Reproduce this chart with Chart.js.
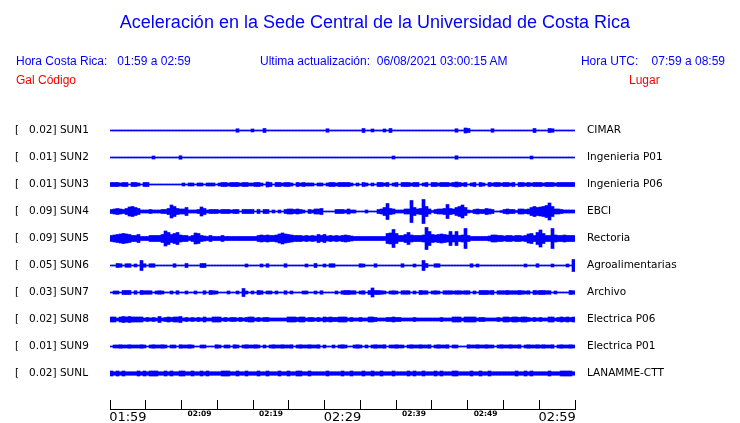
<!DOCTYPE html>
<html><head><meta charset="utf-8">
<script src="https://cdn.jsdelivr.net/npm/chart.js@4"></script>
<style>
html,body{margin:0;padding:0;background:#fff}
body{width:740px;height:423px;overflow:hidden;position:relative;font-family:"Liberation Sans",Arial,sans-serif}
#c{position:absolute;left:0;top:0}
.t{position:absolute;white-space:pre;line-height:1;font-size:12px}
.b{color:#0000ff}
.r{color:#ff0000}
</style></head><body>
<canvas id="c" width="740" height="423"></canvas>
<div class="t b" style="left:5px;top:13px;width:740px;text-align:center;font-size:18px">Aceleración en la Sede Central de la Universidad de Costa Rica</div>
<div class="t b" style="left:16px;top:55px">Hora Costa Rica:   01:59 a 02:59</div>
<div class="t b" style="left:260px;top:55px">Ultima actualización:  06/08/2021 03:00:15 AM</div>
<div class="t b" style="right:15px;top:55px">Hora UTC:    07:59 a 08:59</div>
<div class="t r" style="left:16px;top:74px">Gal</div>
<div class="t r" style="left:38px;top:74px">Código</div>
<div class="t r" style="left:629px;top:74px">Lugar</div>
<script>
// ---- labels ----
const gal = ['0.02','0.01','0.01','0.09','0.09','0.05','0.03','0.02','0.01','0.02'];
const codes = ['SUN1','SUN2','SUN3','SUN4','SUN5','SUN6','SUN7','SUN8','SUN9','SUNL'];
const places = ['CIMAR','Ingenieria P01','Ingenieria P06','EBCI','Rectoria','Agroalimentarias','Archivo','Electrica P06','Electrica P01','LANAMME-CTT'];
const timeLabels = ['01:59','','02:09','','02:19','','02:29','','02:39','','02:49','','02:59'];
const majorLabels = ['01:59','02:29','02:59'];

// ---- trace envelopes (half-amplitude, 155 samples across the hour) ----
const sun1 = [0.5,0.5,0.5,0.5,0.5,0.5,0.5,0.5,0.5,0.5, 0.5,0.5,0.5,0.5,0.5,0.5,0.5,0.5,0.5,0.5, 0.5,0.5,0.5,0.5,0.5,0.5,0.5,0.5,0.5,0.5, 0.5,0.5,0.5,0.5,0.5,0.5,0.5,0.5,0.5,0.5,
  0.5,0.5,1.75,0.5,0.5,0.5,0.5,1.5,0.5,0.5, 0.5,2,0.5,0.5,0.5,0.5,0.5,0.5,0.5,0.5, 0.5,0.5,0.5,0.5,0.5,0.5,0.5,0.5,0.5,0.5, 0.5,0.5,1.75,0.5,0.5,0.5,0.5,0.5,0.5,0.5,
  0.5,0.5,0.5,0.5,2,0.5,0.5,1.5,0.5,0.5, 0.5,1.5,0.5,2,0.5,0.5,0.5,0.5,0.5,0.5, 0.5,0.5,0.5,0.5,0.5,0.5,0.5,0.5,0.5,0.5, 0.5,0.5,0.5,0.5,0.5,1.75,0.5,0.5,2.5,2,
  0.5,0.5,0.5,0.5,0.5,0.5,0.5,1.75,0.5,0.5, 0.5,0.5,0.5,0.5,0.5,0.5,0.5,0.5,0.5,0.5, 0.5,2,0.5,0.5,0.5,0.5,2,1.75,0.5,0.5, 0.5,0.5,0.5,0.5,0.5];
const sun2 = [0.5,0.5,0.5,0.5,0.5,0.5,0.5,0.5,0.5,0.5, 0.5,0.5,0.5,0.5,1.5,0.5,0.5,0.5,0.5,0.5, 0.5,0.5,0.5,1.75,0.5,0.5,0.5,0.5,0.5,0.5, 0.5,0.5,0.5,0.5,0.5,0.5,0.5,0.5,0.5,0.5,
  0.5,0.5,0.5,0.5,0.5,0.5,0.5,0.5,0.5,0.5, 0.5,0.5,0.5,0.5,0.5,0.5,0.5,0.5,0.5,0.5, 0.5,0.5,0.5,0.5,0.5,0.5,0.5,0.5,0.5,0.5, 0.5,0.5,0.5,0.5,0.5,0.5,0.5,0.5,0.5,0.5,
  0.5,0.5,0.5,0.5,0.5,0.5,0.5,0.5,0.5,0.5, 0.5,0.5,0.5,0.5,1.5,0.5,0.5,0.5,0.5,0.5, 0.5,0.5,0.5,0.5,0.5,0.5,0.5,0.5,0.5,0.5, 0.5,0.5,0.5,0.5,0.5,1.75,0.5,0.5,0.5,0.5,
  0.5,0.5,0.5,0.5,0.5,0.5,0.5,0.5,0.5,0.5, 0.5,0.5,0.5,0.5,0.5,0.5,0.5,0.5,0.5,0.5, 1.5,0.5,0.5,0.5,0.5,0.5,0.5,0.5,0.5,0.5, 0.5,0.5,0.5,0.5,0.5];
const sun3 = [2,2,2,1.5,2,2,0.5,2,2,1.5, 0.5,2,2,0.5,0.5,0.5,0.5,0.5,0.5,0.5, 0.5,0.5,0.5,0.5,1.5,0.5,1.5,1.5,0.5,1.5, 1.5,0.5,1.5,1.5,1.5,0.5,1.5,2,2,1.5,
  2,2,2,1.5,2,2,1.5,1.5,2,2, 1.5,0.5,2.5,2,0.5,2,2,1.5,2,2, 1.5,0.5,2,1.5,2,1.5,1.5,1.5,0.5,1.5, 1.5,0.5,1.5,2,2,1.5,2,2,2,2,
  1.5,0.5,1.5,0.5,2,1.5,0.5,1.5,0.5,2, 2,1.5,2,0.5,1.5,2,0.5,2,2,2, 1.5,2,2,0.5,1.5,2,0.5,2,2,1.5, 2,2,2,1.5,2,2.5,2,1.5,2,0.5,
  1.5,2,0.5,2,1.5,0.5,2,1.5,2,2, 1.5,2,2,1.5,2,0.5,2,2,1.5,2, 1.5,2,2,2,1.5,2,2,2,1.5,2, 2,2,2,2,2];
const sun4 = [2,2.5,3,2.5,2,3,4.5,5,4,3, 1.5,1.5,1.5,2,1.5,1.5,1.5,2,2,3, 6.5,5,3,2.5,2.5,4,1.5,1.5,1.5,2, 4.5,3,1.5,2,2,2,1.5,2,2,2,
  1.5,2,2,0.5,2,2,2,2,0.5,2, 0.5,2,2,0.5,1.5,0.5,1.5,0.5,2,2.5, 2.5,2,2.5,2,1.5,0.5,2,1.5,2.5,2.5, 3,0.5,0.5,0.5,0.5,2,2,2,1.5,2.5,
  1.5,1.5,0.5,0.5,0.5,1.5,0.5,0.5,0.5,2, 2.5,4,8,3,2.5,1.5,1.5,1.5,2.5,2.5, 11,4,2.5,3,12,5,2.5,1,2,2.5, 2.5,3,7,3,2.5,4,5,6.5,4,1.5,
  1,2,2.5,2,2,3,2.5,2,0.5,0.5, 1,2,2.5,2,2,1,2.5,2.5,2,2.5, 4,5,4,4.5,5,6,8.5,5,2.5,2.5, 2,1.5,1.5,1.5,1.5];
const sun5 = [3,3.5,4,4.5,5,4.5,4,3,3,4, 2,2,2,3,3,3,3,4,7.5,6, 4,5,6,3.5,3,3,2,3,5.5,5, 3,2.5,2,3,2,2,2,3,2,2,
  2,2,2,2,2,2,2,2,2,3, 3.5,3,3.5,3,3,3.5,4.5,5.5,4.5,4, 3.5,3,3,3,2.5,3,2.5,3,2.5,4, 3,4,2.5,3,2.5,3,2.5,3,3.5,3,
  2.5,2,2,2,2,2,2,2,2,2, 2,2,5,5.5,9,5,3,3,4,6, 3.5,3,3,3,3.5,11,7,4,3.5,4, 4.5,4,3.5,7,3.5,7,3,3.5,10,3,
  2,2,2,2,2,2,2.5,3.5,3.5,3, 3,2.5,3,3,2.5,3,3,2.5,3,4.5, 5,3,6,8.5,5,3,3,10,3.5,3, 3,3.5,3,3,3];
const sun6 = [0.5,0.5,2,1.75,0.5,1.75,1.75,0.5,1.5,0.5, 5,1.75,0.5,1.75,1.75,0.5,0.5,0.5,0.5,0.5, 0.5,1.75,0.5,0.5,0.5,2,0.5,0.5,0.5,0.5, 2,2,0.5,0.5,0.5,0.5,0.5,0.5,0.5,0.5,
  0.5,0.5,0.5,0.5,0.5,1.5,0.5,0.5,0.5,0.5, 1.5,0.5,1.75,0.5,0.5,0.5,0.5,0.5,1.75,0.5, 0.5,0.5,0.5,0.5,0.5,1.5,0.5,0.5,2,0.5, 0.5,1.5,0.5,1.75,1.75,0.5,0.5,0.5,0.5,0.5,
  0.5,0.5,0.5,1.75,1.5,0.5,0.5,0.5,1.75,0.5, 0.5,0.5,0.5,0.5,0.5,0.5,0.5,1.75,0.5,0.5, 0.5,1.5,0.5,0.5,5,2,0.5,0.5,1.75,1.75, 0.5,0.5,0.5,0.5,0.5,0.5,0.5,0.5,0.5,0.5,
  1.75,0.5,1.5,0.5,0.5,0.5,0.5,0.5,0.5,0.5, 0.5,0.5,0.5,0.5,0.5,0.5,0.5,0.5,1.5,0.5, 0.5,0.5,1.75,0.5,0.5,0.5,0.5,1.5,0.5,0.5, 0.5,0.5,1.5,0.5,6];
const sun7 = [0.5,1.5,1.5,0.5,2,2,2,0.5,1.75,0.5, 2,1.75,1.75,1.75,0.5,1.5,1.75,1.5,0.5,0.5, 1.5,0.5,1.75,0.5,0.5,1.5,0.5,0.5,1.5,0.5, 0.5,1.75,0.5,2,1.75,1.5,0.5,0.5,0.5,1.5,
  0.5,0.5,1.5,0.5,4,1.5,0.5,1.5,0.5,2, 1.75,0.5,1.5,1.5,0.5,1.5,0.5,0.5,1.75,0.5, 1.5,0.5,0.5,0.5,1.5,1.5,0.5,0.5,1.5,0.5, 1.75,0.5,0.5,0.5,0.5,1.5,0.5,1.75,2,2,
  1.75,1.75,0.5,1.5,1.75,0.5,2,4.5,2,2, 1.75,1.5,0.5,1.5,1.75,1.5,0.5,1.75,1.75,1.75, 0.5,1.5,0.5,2,1.75,1.75,0.5,1.5,1.75,1.5, 0.5,1.75,1.75,1.75,1.5,1.75,1.75,1.5,1.75,1.75,
  0.5,1.5,0.5,2,2,2,1.75,2,0.5,1.75, 1.75,1.75,2,1.75,1.75,1.75,2,1.75,1.5,1.75, 0.5,2,1.75,2,2,1.75,1.75,0.5,1.5,0.5, 0.5,0.5,0.5,2,1.75];
const sun8 = [2.5,2.5,1.5,2.5,3,2.5,3,2.5,2.5,2.5, 2.5,1.5,2,1.5,2,1.5,3,1.5,2,2.5, 2,2.5,2.5,3,1.5,2,1.5,2,1.5,2, 1.5,2.5,1.5,1.5,2.5,2.5,2.5,1.5,2,1.5,
  2,2,1.5,2,1.5,2,2.5,2.5,1.5,2, 1.5,2,2,1.5,1.5,1.5,1.5,1.5,1.5,2.5, 2.5,2.5,2,2.5,2.5,1.5,2,2,1.5,2, 1.5,2.5,2,2.5,2,2,2.5,2.5,2.5,1.5,
  2,1.5,1.5,2,1.5,1.5,2.5,2.5,2,1.5, 1.5,1.5,2,2,2.5,2,2,1.5,1.5,1.5, 1.5,2,1.5,1.5,1.5,1.5,1.5,1.5,1.5,1.5, 2,1.5,1.5,1.5,2.5,2.5,2.5,1.5,2.5,2.5,
  2.5,2.5,1.5,2,2,1.5,1.5,1.5,1.5,2, 1.5,2.5,2.5,2,2.5,2.5,2,2.5,2.5,2, 1.5,2,1.5,2,1.5,1.5,2.5,2.5,1.5,2, 2.5,2,2.5,2,2.5];
const sun9 = [0.5,1.5,1.5,1.75,1.5,1.5,1.75,1.5,1.5,1.5, 1.75,1.5,0.5,1.5,1.75,1.5,1.5,1.75,1.5,0.5, 1.5,1.5,0.5,1.75,1.5,1.5,1.75,1.5,0.5,0.5, 1.5,1.5,0.5,0.5,0.5,1.75,1.5,0.5,1.5,1.5,
  0.5,1.75,1.5,0.5,1.5,1.75,1.5,1.5,1.75,1.5, 0.5,1.5,0.5,1.5,1.75,1.5,1.5,1.75,1.5,1.5, 1.75,0.5,1.5,1.75,1.5,1.5,1.75,1.5,1.5,1.75, 0.5,1.5,0.5,0.5,1.5,0.5,1.5,1.75,1.5,0.5,
  0.5,1.5,1.75,1.5,0.5,1.5,0.5,1.5,1.75,1.5, 1.5,1.75,0.5,1.5,1.5,1.75,1.5,1.5,0.5,1.5, 1.75,1.5,1.5,1.75,1.5,1.5,1.75,0.5,1.5,1.75, 1.5,1.5,1.75,0.5,1.5,1.5,0.5,0.5,0.5,1.75,
  1.5,1.5,1.75,1.5,1.5,1.75,1.5,1.5,0.5,1.5, 1.75,1.5,1.5,1.75,1.5,1.5,1.75,0.5,1.5,1.75, 1.5,1.5,1.75,1.5,1.75,1.5,1.5,1.75,0.5,1.5, 1.75,1.5,1.5,1.75,1.5];
const sunL = [2.5,1.75,2.5,1.75,2.5,1.75,1.75,1.75,1.75,2.5, 1.75,2.5,1.75,2.5,2.5,2.5,1.75,1.75,2.5,1.75, 2.5,1.75,1.75,2.5,2.5,1.75,1.75,2.5,1.75,1.75, 2.5,1.75,2.5,1.75,1.75,1.75,1.75,2.5,2.5,2.5,
  1.75,1.75,2.5,1.75,1.75,2.5,1.75,1.75,1.75,2.5, 1.75,1.75,2.5,1.75,1.75,1.75,2.5,1.75,1.75,2.5, 1.75,1.75,2.5,2.5,1.75,1.75,2.5,1.75,1.75,1.75, 1.75,1.75,2.5,1.75,1.75,1.75,1.75,2.5,1.75,1.75,
  2.5,1.75,1.75,1.75,2.5,1.75,1.75,2.5,1.75,1.75, 2.5,1.75,1.75,1.75,2.5,1.75,1.75,1.75,1.75,2.5, 1.75,2.5,1.75,1.75,2.5,1.75,1.75,1.75,2.5,1.75, 2.5,1.75,1.75,1.75,2.5,2.5,1.75,1.75,1.75,1.75,
  2.5,1.75,1.75,2.5,1.75,1.75,2.5,1.75,1.75,1.75, 1.75,1.75,1.75,1.75,1.75,2.5,1.75,1.75,2.5,1.75, 2.5,1.75,1.75,1.75,1.75,1.75,2.5,1.75,1.75,1.75, 2.5,2.5,2.5,2.5,1.75];
const traces = [sun1, sun2, sun3, sun4, sun5, sun6, sun7, sun8, sun9, sunL];

const rowSpacing = 27;
const offsets = traces.map((_, k) => k * rowSpacing);
const leftLabels = codes.map((c, k) => '[   ' + gal[k] + '] ' + c);
const samples = sun1.map((_, i) => i);

const datasets = traces.map((amp, k) => ({
  data: amp.map(a => [offsets[k] - a, offsets[k] + a]),
  backgroundColor: '#0000ff',
  borderWidth: 0,
  borderSkipped: false,
  barPercentage: 1,
  categoryPercentage: 1,
  grouped: false,
  xAxisID: 'x',
  yAxisID: 'y'
}));

const rowAxis = (pos, width, labels, pad) => ({
  type: 'linear', position: pos, reverse: true, min: -30.5, max: 278.5,
  afterBuildTicks: s => { s.ticks = offsets.map(v => ({ value: v })); },
  afterFit: s => { s.width = width; s.paddingTop = 0; s.paddingBottom = 0; },
  ticks: {
    autoSkip: false, padding: pad, color: '#000',
    crossAlign: pos === 'left' ? 'far' : 'near',
    font: { family: 'DejaVu Sans', size: 10.5 },
    callback: (v, i) => labels[i]
  },
  grid: { display: false, drawTicks: false },
  border: { display: false }
});

new Chart(document.getElementById('c'), {
  type: 'bar',
  data: { labels: samples, datasets },
  options: {
    responsive: false, animation: false, devicePixelRatio: 1,
    layout: { padding: { left: 15, top: 100, right: 0, bottom: 0 } },
    plugins: { legend: { display: false }, tooltip: { enabled: false } },
    scales: {
      x: { type: 'category', display: false, offset: true },
      xt: {
        type: 'linear', axis: 'x', position: 'bottom', min: 0, max: 60,
        afterFit: s => { s.height = 14; },
        ticks: {
          stepSize: 5, autoSkip: false, maxRotation: 0, padding: 10, color: '#000',
          callback: (v, i) => timeLabels[i],
          font: c => majorLabels.includes(timeLabels[c.index])
            ? { family: 'DejaVu Sans', size: 13 }
            : { family: 'DejaVu Sans', size: 7.5, weight: 'bold' }
        },
        grid: { drawOnChartArea: false, drawTicks: true, tickLength: -9, color: '#000', lineWidth: 1 },
        border: { display: true, color: '#000', width: 1 }
      },
      y: rowAxis('left', 95, leftLabels, 0),
      y2: rowAxis('right', 165, places, 12)
    }
  }
});
</script>
</body></html>
